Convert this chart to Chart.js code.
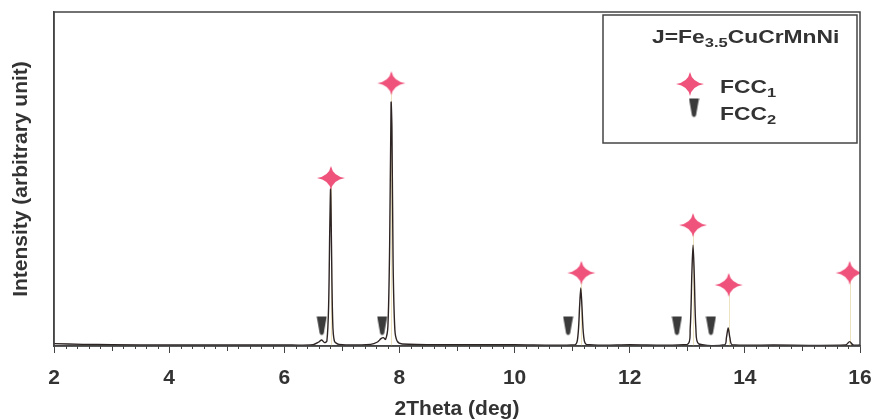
<!DOCTYPE html>
<html>
<head>
<meta charset="utf-8">
<script src="https://cdn.jsdelivr.net/npm/chart.js@4.4.1/dist/chart.umd.min.js"></script>
<style>
  html, body { margin: 0; padding: 0; background: #fff; }
  #wrap { width: 875px; height: 419px; }
</style>
</head>
<body>
<div id="wrap"><canvas id="xrd"></canvas></div>
<script>
// pattern (2theta, intensity in % of the frame height)
const twoTheta = [2.0, 2.5, 3.0, 4.0, 5.0, 6.0, 6.5, 6.6, 6.65, 6.7, 6.74, 6.77, 6.79, 6.805, 6.82, 6.84, 6.87, 6.95,
  7.5, 7.62, 7.68, 7.72, 7.76, 7.8, 7.83, 7.855, 7.87, 7.89, 7.92, 7.96, 8.05, 9.0, 10.0, 11.05, 11.1, 11.13, 11.15,
  11.17, 11.2, 11.25, 12.0, 13.0, 13.05, 13.08, 13.1, 13.12, 13.15, 13.2, 13.65, 13.68, 13.71, 13.74, 13.78,
  14.5, 15.75, 15.82, 15.88, 16.0];
const intensity = [0.7, 0.5, 0.4, 0.3, 0.3, 0.3, 0.4, 1.2, 1.8, 1.0, 1.5, 12, 35, 47, 30, 8, 1.5, 0.5,
  0.5, 1.2, 2.2, 2.5, 2.0, 6, 30, 72.8, 65, 25, 5, 1.5, 0.6, 0.4, 0.4, 0.4, 3, 12, 17.4,
  12, 3, 0.5, 0.4, 0.5, 5, 22, 30.2, 22, 5, 0.6, 0.4, 2.5, 5.4, 2.5, 0.4,
  0.3, 0.3, 1.3, 0.3, 0.3];

// phase markers
const fcc1X = [6.81, 7.86, 11.16, 13.1, 13.72, 15.82];
const fcc1Y = [50.3, 78.7, 21.9, 36.2, 18.3, 21.9];
const fcc2X = [6.65, 7.7, 10.93, 12.82, 13.41];
const fcc2Y = [6.0, 6.0, 6.0, 6.0, 6.0];

const xTicks = [2, 4, 6, 8, 10, 12, 14, 16];

const FONT = "'Liberation Sans', Arial, sans-serif";
const INK = "#333";

function starImg(rx, ry) {
  const c = document.createElement("canvas");
  c.width = rx * 2 + 2;
  c.height = ry * 2 + 2;
  const g = c.getContext("2d");
  const mx = rx + 1, my = ry + 1, k = 2;
  g.fillStyle = "#ef527b";
  g.beginPath();
  g.moveTo(mx, my - ry);
  g.quadraticCurveTo(mx + k, my - k, mx + rx, my);
  g.quadraticCurveTo(mx + k, my + k, mx, my + ry);
  g.quadraticCurveTo(mx - k, my + k, mx - rx, my);
  g.quadraticCurveTo(mx - k, my - k, mx, my - ry);
  g.fill();
  return c;
}

function wedgeImg() {
  const c = document.createElement("canvas");
  c.width = 11; c.height = 21;
  const g = c.getContext("2d");
  g.fillStyle = "#3b3b3b";
  g.beginPath();
  g.moveTo(0.5, 1);
  g.lineTo(10.5, 1);
  g.lineTo(7.5, 18);
  g.quadraticCurveTo(5.5, 21, 3.5, 18);
  g.closePath();
  g.fill();
  return c;
}

const star = starImg(14, 12);
const wedge = wedgeImg();

const toPts = (xs, ys) => xs.map((x, i) => ({ x: x, y: ys[i] }));

function wideText(ctx, txt, x, y, sx) {
  ctx.save();
  ctx.translate(x, y);
  ctx.scale(sx, 1);
  ctx.fillText(txt, 0, 0);
  const w = ctx.measureText(txt).width * sx;
  ctx.restore();
  return w;
}

// frame, minor ticks, drop lines and the boxed legend
const decor = {
  id: "decor",
  beforeDatasetsDraw(chart) {
    const { ctx, scales: { x, y } } = chart;
    ctx.save();
    ctx.strokeStyle = "rgba(232,218,170,0.75)";
    ctx.lineWidth = 1;
    fcc1X.forEach((v, i) => {
      const px = Math.round(x.getPixelForValue(v)) + 0.5;
      ctx.beginPath();
      ctx.moveTo(px, y.getPixelForValue(fcc1Y[i]));
      ctx.lineTo(px, y.getPixelForValue(0));
      ctx.stroke();
    });
    ctx.restore();
  },
  afterDraw(chart) {
    const { ctx, chartArea: a, scales: { x } } = chart;
    ctx.save();
    ctx.strokeStyle = "#444";
    ctx.lineWidth = 1.5;
    ctx.strokeRect(a.left, a.top, a.right - a.left, a.bottom - a.top);
    ctx.lineWidth = 1;
    for (let i = 0; i <= 70; i++) {
      if (i % 10 === 0) continue;
      const px = Math.round(x.getPixelForValue(2 + i * 0.2)) + 0.5;
      ctx.beginPath();
      ctx.moveTo(px, a.bottom);
      ctx.lineTo(px, a.bottom + (i % 5 === 0 ? 5 : 3));
      ctx.stroke();
    }
    // legend box
    ctx.lineWidth = 1.5;
    ctx.strokeRect(603, 15, 254, 128);
    ctx.fillStyle = INK;
    ctx.textBaseline = "alphabetic";
    const sx = 1.27;
    ctx.font = "bold 18px " + FONT;
    let tx = 652;
    tx += wideText(ctx, "J=Fe", tx, 43, sx);
    ctx.font = "bold 13px " + FONT;
    tx += wideText(ctx, "3.5", tx, 47, sx);
    ctx.font = "bold 18px " + FONT;
    wideText(ctx, "CuCrMnNi", tx, 43, sx);

    ctx.drawImage(star, 690 - star.width / 2, 84 - star.height / 2);
    ctx.drawImage(wedge, 694 - wedge.width / 2, 108 - wedge.height / 2);
    [["FCC", "1", 93], ["FCC", "2", 120]].forEach(([t, s, yy]) => {
      ctx.font = "bold 18px " + FONT;
      const w = wideText(ctx, t, 720, yy, sx);
      ctx.font = "bold 13px " + FONT;
      wideText(ctx, s, 720 + w, yy + 4, sx);
    });
    ctx.restore();
  }
};

new Chart(document.getElementById("xrd"), {
  type: "line",
  data: {
    datasets: [
      {
        label: "pattern",
        data: toPts(twoTheta, intensity),
        borderColor: "#2e2424",
        borderWidth: 1.4,
        pointRadius: 0,
        tension: 0.3,
        order: 3
      },
      {
        label: "FCC1",
        data: toPts(fcc1X, fcc1Y),
        showLine: false,
        pointStyle: star,
        order: 1
      },
      {
        label: "FCC2",
        data: toPts(fcc2X, fcc2Y),
        showLine: false,
        pointStyle: wedge,
        order: 2
      }
    ]
  },
  options: {
    responsive: true,
    maintainAspectRatio: false,
    animation: false,
    layout: { padding: { top: 12, right: 15, left: 0, bottom: 0 } },
    plugins: { legend: { display: false }, tooltip: { enabled: false } },
    scales: {
      x: {
        type: "linear",
        min: 2,
        max: 16,
        afterFit(s) { s.height = 73; s.paddingLeft = 0; s.paddingRight = 0; },
        afterBuildTicks(s) { s.ticks = xTicks.map(v => ({ value: v })); },
        grid: { drawOnChartArea: false, tickLength: 7, color: "#444" },
        border: { color: "#444", width: 1.5 },
        ticks: {
          color: INK,
          padding: 13,
          font: { family: FONT, size: 21, weight: "bold" }
        },
        title: {
          display: true,
          text: "2Theta (deg)",
          color: INK,
          padding: { top: 0, bottom: -3 },
          font: { family: FONT, size: 21, weight: "bold" }
        }
      },
      y: {
        min: 0,
        max: 100,
        afterFit(s) { s.width = 54; s.paddingTop = 0; s.paddingBottom = 0; },
        grid: { display: false },
        border: { color: "#444", width: 1.5 },
        ticks: { display: false },
        title: {
          display: true,
          text: "Intensity (arbitrary unit)",
          color: INK,
          padding: { top: 9, bottom: 4 },
          font: { family: FONT, size: 21, weight: "bold" }
        }
      }
    }
  },
  plugins: [decor]
});
</script>
</body>
</html>
